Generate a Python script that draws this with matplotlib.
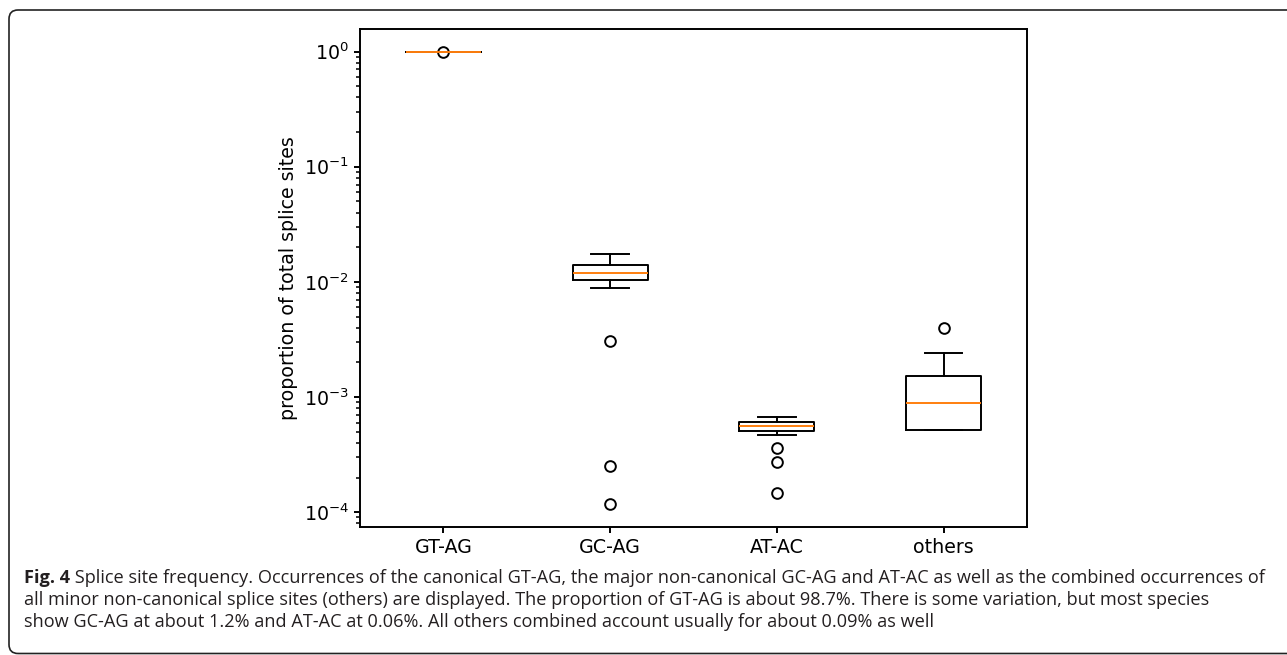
import matplotlib.pyplot as plt
from matplotlib.patches import FancyBboxPatch
from matplotlib.transforms import IdentityTransform

# box statistics (proportion of total splice sites)
categories = ["GT-AG", "GC-AG", "AT-AC", "others"]
medians = [0.987, 0.0120, 5.56e-4, 8.9e-4]
q1 = [0.986, 0.01035, 5.06e-4, 5.16e-4]
q3 = [0.988, 0.01415, 6.02e-4, 1.52e-3]
whislo = [0.984, 0.0088, 4.70e-4, 5.16e-4]
whishi = [0.989, 0.0175, 6.66e-4, 2.41e-3]
fliers = [[0.998], [3.05e-3, 2.53e-4, 1.17e-4], [3.58e-4, 2.72e-4, 1.46e-4], [3.98e-3]]

caption = [
    " Splice site frequency. Occurrences of the canonical GT-AG, the major non-canonical GC-AG and AT-AC as well as the combined occurrences of",
    "all minor non-canonical splice sites (others) are displayed. The proportion of GT-AG is about 98.7%. There is some variation, but most species",
    "show GC-AG at about 1.2% and AT-AC at 0.06%. All others combined account usually for about 0.09% as well",
]

W, H = 1287, 655
fig = plt.figure(figsize=(W / 100, H / 100), dpi=100)
ax = fig.add_axes([360 / W, 1 - 527 / H, 667 / W, 498 / H])

stats = []
for i, name in enumerate(categories):
    stats.append(dict(label=name, med=medians[i], q1=q1[i], q3=q3[i],
                      whislo=whislo[i], whishi=whishi[i], fliers=fliers[i]))

lw = 1.4
ax.set_yscale("log")
ax.bxp(stats, widths=0.45,
       boxprops=dict(linewidth=lw, color="black"),
       whiskerprops=dict(linewidth=lw, color="black"),
       capprops=dict(linewidth=lw, color="black"),
       medianprops=dict(linewidth=lw, color="#ff7f0e"),
       flierprops=dict(marker="o", markersize=7.7, markerfacecolor="none",
                       markeredgecolor="black", markeredgewidth=lw))

fs = 13.7
ax.tick_params(labelsize=fs, width=lw, length=4.5)
ax.tick_params(which="minor", width=lw * 0.8, length=2.6)
for s in ax.spines.values():
    s.set_linewidth(lw)
ax.set_ylabel("proportion of total splice sites", fontsize=fs)

# caption, bold figure number followed by the regular text
cfont = "Open Sans"
cfs = 13.05
ccol = "#231f20"
t1 = fig.text(24 / W, 1 - 583 / H, "Fig. 4", fontsize=cfs, fontweight="bold",
              family=cfont, va="baseline", color=ccol)
fig.add_artist(plt.Annotation(caption[0], xy=(1, 0), xycoords=t1, va="bottom",
                              ha="left", fontsize=cfs, family=cfont, color=ccol,
                              annotation_clip=False))
fig.text(24 / W, 1 - 605 / H, caption[1], fontsize=cfs, family=cfont,
         va="baseline", color=ccol)
fig.text(24 / W, 1 - 627 / H, caption[2], fontsize=cfs, family=cfont,
         va="baseline", color=ccol)

# rounded frame around the figure
frame = FancyBboxPatch((9, 1.5), 1400, H - 10 - 1.5,
                       boxstyle="round,pad=0,rounding_size=9",
                       transform=IdentityTransform(), fill=False,
                       edgecolor="#222222", linewidth=1.2)
fig.patches.append(frame)

fig.savefig("out.png", dpi=100)
